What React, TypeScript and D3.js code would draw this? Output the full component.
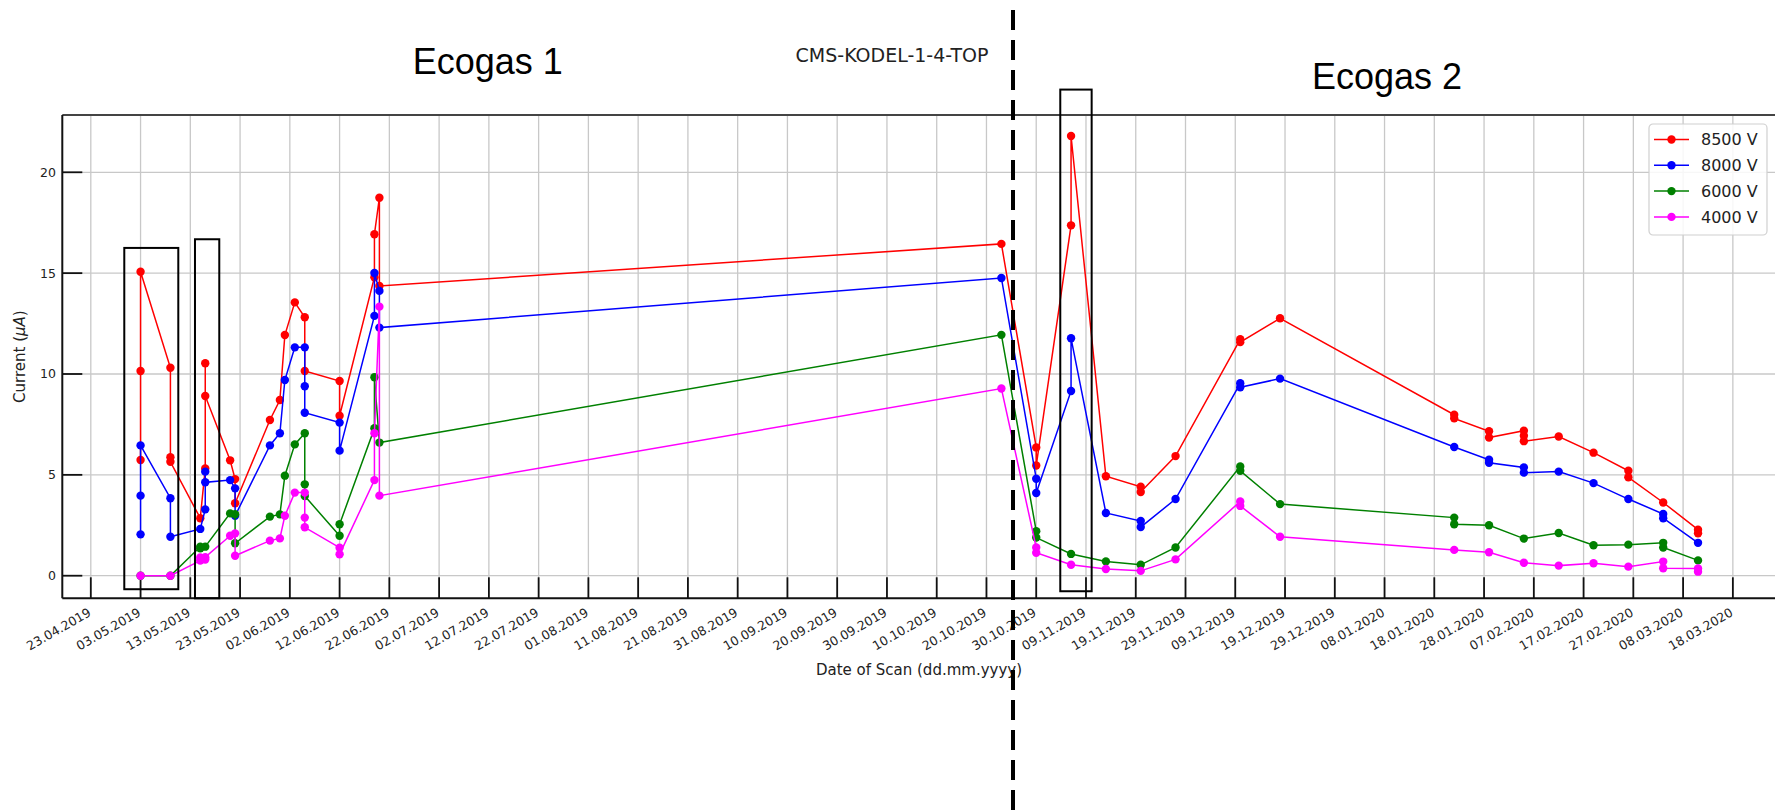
import React, { useEffect, useRef } from 'react';
import * as d3 from 'd3';

// x tick labels (every 10 days)
const tickLabels = [
  '23.04.2019', '03.05.2019', '13.05.2019', '23.05.2019', '02.06.2019', '12.06.2019',
  '22.06.2019', '02.07.2019', '12.07.2019', '22.07.2019', '01.08.2019', '11.08.2019',
  '21.08.2019', '31.08.2019', '10.09.2019', '20.09.2019', '30.09.2019', '10.10.2019',
  '20.10.2019', '30.10.2019', '09.11.2019', '19.11.2019', '29.11.2019', '09.12.2019',
  '19.12.2019', '29.12.2019', '08.01.2020', '18.01.2020', '28.01.2020', '07.02.2020',
  '17.02.2020', '27.02.2020', '08.03.2020', '18.03.2020',
];

const yTicks = [0, 5, 10, 15, 20];

// scan dates; several scans on one day give several values in one entry
const scanDates = [
  '03.05.2019', '09.05.2019', '15.05.2019', '16.05.2019', '21.05.2019', '22.05.2019',
  '29.05.2019', '31.05.2019', '01.06.2019', '03.06.2019', '05.06.2019', '12.06.2019',
  '19.06.2019', '20.06.2019', '23.10.2019', '30.10.2019', '06.11.2019', '13.11.2019',
  '20.11.2019', '27.11.2019', '10.12.2019', '18.12.2019', '22.01.2020', '29.01.2020',
  '05.02.2020', '12.02.2020', '19.02.2020', '26.02.2020', '04.03.2020', '11.03.2020',
];

const current8500 = [
  [5.74, 10.15, 15.07], [10.31, 5.87, 5.65], [2.85], [5.32, 10.53, 8.91], [5.72], [4.79, 3.59],
  [7.72], [8.71], [11.93], [13.55], [12.81, 10.15], [9.65, 7.93],
  [14.8, 16.93], [18.74, 14.36], [16.45], [6.36, 5.46], [17.37, 21.8], [4.93],
  [4.41, 4.15], [5.93], [11.72, 11.58], [12.76], [7.98, 7.8], [7.16, 6.85],
  [7.19, 6.94, 6.67], [6.9], [6.1], [5.2, 4.88], [3.63], [2.28, 2.1],
];

const current8000 = [
  [2.05, 3.97, 6.46], [3.84, 1.93], [2.32], [3.29, 5.16, 4.63], [4.74], [4.33, 2.97],
  [6.46], [7.06], [9.7], [11.32], [11.32, 9.39, 8.08], [7.59, 6.2],
  [12.88, 15.01], [14.12, 12.3], [14.76], [4.81, 4.1], [9.16, 11.77], [3.11],
  [2.71, 2.41], [3.8], [9.54, 9.34], [9.77], [6.38], [5.75, 5.6],
  [5.37, 5.11], [5.16], [4.59], [3.8], [3.06, 2.85], [1.63],
];

const current6000 = [
  [0.0], [0.0], [1.44, 1.36], [1.44], [3.09], [3.05, 1.61],
  [2.93], [3.04], [4.96], [6.51], [7.06, 4.53, 3.95], [1.98, 2.55],
  [7.31, 9.84], [6.6], [11.94], [2.21, 1.89], [1.08], [0.71],
  [0.54], [1.4], [5.42, 5.2], [3.55], [2.88, 2.55], [2.5],
  [1.84], [2.12], [1.51], [1.54], [1.63, 1.4], [0.76],
];

const current4000 = [
  [0.0], [0.0], [0.75, 0.9], [0.8, 0.92], [1.98], [2.1, 0.99],
  [1.74], [1.85], [2.97], [4.12], [4.12, 2.88, 2.4], [1.39, 1.06],
  [4.74, 7.06], [13.34, 3.97], [9.28], [1.4, 1.14], [0.54], [0.33],
  [0.24], [0.81], [3.68, 3.46], [1.93], [1.28], [1.16],
  [0.64], [0.5], [0.62], [0.45], [0.7, 0.37], [0.36, 0.2],
];

const seriesLabels = ['8500 V', '8000 V', '6000 V', '4000 V'];
const seriesColors = ['#ff0000', '#0000ff', '#008000', '#ff00ff'];
const seriesValues = [current8500, current8000, current6000, current4000];

// highlighted scan groups: [from, to, low current, high current]
const boxFrom = ['2019-04-29T17:30Z', '2019-05-13T22:30Z', '2019-11-03T20:00Z'];
const boxTo = ['2019-05-10T14:00Z', '2019-05-18T19:40Z', '2019-11-10T03:20Z'];
const boxLow = [-0.67, -1.12, -0.77];
const boxHigh = [16.25, 16.68, 24.1];

const gasChangeDate = '2019-10-25T08:00Z';
const regionTitles = ['Ecogas 1', 'Ecogas 2'];
const regionCenters = ['2019-07-11T19:00Z', '2020-01-08T12:00Z'];

const App: React.FC = () => {
  const svgRef = useRef<SVGSVGElement>(null);

  useEffect(() => {
    if (!svgRef.current) return;
    const svg = d3.select(svgRef.current);
    svg.selectAll('*').remove();

    const width = 1775;
    const height = 810;
    const left = 62.3;
    const right = 1776;
    const top = 115;
    const bottom = 598.3;
    const parseDay = d3.utcParse('%d.%m.%Y');

    const x = d3.scaleUtc()
      .domain([new Date('2019-04-17T06:33Z'), new Date('2020-03-26T16:05Z')])
      .range([left, right]);
    const y = d3.scaleLinear().domain([-1.12, 22.84]).range([bottom, top]);

    svg.append('rect').attr('width', width).attr('height', height).attr('fill', '#fff');

    const tickDates = tickLabels.map(t => parseDay(t) as Date);

    // grid
    const grid = svg.append('g');
    tickDates.forEach(d => {
      grid.append('line')
        .attr('x1', x(d)).attr('x2', x(d)).attr('y1', top).attr('y2', bottom)
        .attr('stroke', '#c8c8c8').attr('stroke-width', 1.3);
    });
    yTicks.forEach(v => {
      grid.append('line')
        .attr('x1', left).attr('x2', right).attr('y1', y(v)).attr('y2', y(v))
        .attr('stroke', '#c8c8c8').attr('stroke-width', 1.3);
    });

    // ticks (inward)
    const ticks = svg.append('g').attr('stroke', '#111').attr('stroke-width', 1.8);
    tickDates.forEach(d => {
      ticks.append('line').attr('x1', x(d)).attr('x2', x(d)).attr('y1', bottom).attr('y2', bottom - 21);
    });
    yTicks.forEach(v => {
      ticks.append('line').attr('x1', left).attr('x2', left + 20).attr('y1', y(v)).attr('y2', y(v));
    });

    // spines
    svg.append('line').attr('x1', left).attr('x2', right).attr('y1', top).attr('y2', top)
      .attr('stroke', '#444').attr('stroke-width', 2);
    svg.append('line').attr('x1', left).attr('x2', right).attr('y1', bottom).attr('y2', bottom)
      .attr('stroke', '#111').attr('stroke-width', 2);
    svg.append('line').attr('x1', left).attr('x2', left).attr('y1', top).attr('y2', bottom)
      .attr('stroke', '#111').attr('stroke-width', 2);

    // tick labels
    const labelFont = 'DejaVu Sans, sans-serif';
    tickDates.forEach((d, i) => {
      svg.append('text')
        .attr('transform', `translate(${x(d) + 1},615) rotate(-30)`)
        .attr('text-anchor', 'end')
        .style('font-family', labelFont)
        .style('font-size', '12.5px')
        .style('fill', '#222')
        .text(tickLabels[i]);
    });
    yTicks.forEach(v => {
      svg.append('text')
        .attr('x', 56).attr('y', y(v))
        .attr('dy', '0.35em')
        .attr('text-anchor', 'end')
        .style('font-family', labelFont)
        .style('font-size', '12.5px')
        .style('fill', '#222')
        .text(String(v));
    });

    // axis labels
    svg.append('text')
      .attr('x', 919).attr('y', 675)
      .attr('text-anchor', 'middle')
      .style('font-family', labelFont)
      .style('font-size', '15px')
      .style('fill', '#222')
      .text('Date of Scan (dd.mm.yyyy)');

    const yLabel = svg.append('text')
      .attr('transform', `translate(25,${(top + bottom) / 2}) rotate(-90)`)
      .attr('text-anchor', 'middle')
      .style('font-family', labelFont)
      .style('font-size', '15px')
      .style('fill', '#222');
    yLabel.append('tspan').text('Current (');
    yLabel.append('tspan').style('font-style', 'italic').text('\u03bcA');
    yLabel.append('tspan').text(')');

    // series
    const line = d3.line<{ date: Date; value: number }>()
      .x(p => x(p.date))
      .y(p => y(p.value));

    seriesValues.forEach((values, si) => {
      const pts = scanDates.flatMap((d, i) =>
        values[i].map(v => ({ date: parseDay(d) as Date, value: v })));
      const g = svg.append('g');
      g.append('path')
        .attr('d', line(pts) as string)
        .attr('fill', 'none')
        .attr('stroke', seriesColors[si])
        .attr('stroke-width', 1.5);
      g.selectAll('circle')
        .data(pts)
        .join('circle')
        .attr('cx', p => x(p.date))
        .attr('cy', p => y(p.value))
        .attr('r', 4.2)
        .attr('fill', seriesColors[si]);
    });

    // boxes around grouped scans
    boxFrom.forEach((f, i) => {
      const x0 = x(new Date(f));
      const x1 = x(new Date(boxTo[i]));
      const y0 = y(boxHigh[i]);
      const y1 = y(boxLow[i]);
      svg.append('rect')
        .attr('x', x0).attr('y', y0)
        .attr('width', x1 - x0).attr('height', y1 - y0)
        .attr('fill', 'none')
        .attr('stroke', '#000')
        .attr('stroke-width', 2);
    });

    // gas change separator
    const sx = x(new Date(gasChangeDate));
    svg.append('line')
      .attr('x1', sx).attr('x2', sx).attr('y1', 10).attr('y2', height)
      .attr('stroke', '#000')
      .attr('stroke-width', 4)
      .attr('stroke-dasharray', '20 10');

    // titles
    regionTitles.forEach((t, i) => {
      svg.append('text')
        .attr('x', x(new Date(regionCenters[i])))
        .attr('y', i === 0 ? 74 : 89)
        .attr('text-anchor', 'middle')
        .style('font-family', 'Liberation Sans, Arial, sans-serif')
        .style('font-size', '36px')
        .style('fill', '#000')
        .text(t);
    });
    svg.append('text')
      .attr('x', 892).attr('y', 62)
      .attr('text-anchor', 'middle')
      .style('font-family', labelFont)
      .style('font-size', '19px')
      .style('fill', '#222')
      .text('CMS-KODEL-1-4-TOP');

    // legend
    const lg = svg.append('g').attr('transform', 'translate(1649,124)');
    lg.append('rect')
      .attr('width', 118).attr('height', 111)
      .attr('rx', 4)
      .attr('fill', 'rgba(255,255,255,0.85)')
      .attr('stroke', '#d0d0d0')
      .attr('stroke-width', 1.2);
    seriesLabels.forEach((lab, i) => {
      const ly = 15.5 + i * 25.8;
      lg.append('line')
        .attr('x1', 5).attr('x2', 40).attr('y1', ly).attr('y2', ly)
        .attr('stroke', seriesColors[i]).attr('stroke-width', 1.5);
      lg.append('circle').attr('cx', 22.5).attr('cy', ly).attr('r', 4.2).attr('fill', seriesColors[i]);
      lg.append('text')
        .attr('x', 52).attr('y', ly).attr('dy', '0.36em')
        .style('font-family', labelFont)
        .style('font-size', '16px')
        .style('fill', '#222')
        .text(lab);
    });
  }, []);

  return (
    <div style={{ position: 'absolute', left: 0, top: 0 }}>
      <svg ref={svgRef} width="1775" height="810" style={{ display: 'block' }} />
    </div>
  );
};

export default App;
